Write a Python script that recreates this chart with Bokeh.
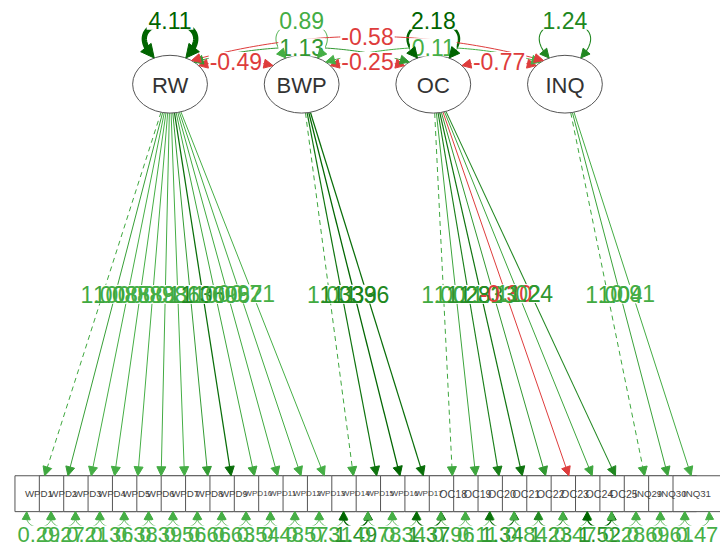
import numpy as np
from bokeh.plotting import figure
from bokeh.models import Range1d, Arrow, NormalHead, ColumnDataSource
from bokeh.embed import file_html
from bokeh.resources import INLINE
from bokeh.core.properties import value

# ---------------- data ----------------
latent_names = ["RW", "BWP", "OC", "INQ"]
latent_variances = [4.11, 0.89, 2.18, 1.24]

rw_items = ["WPD1", "WPD2", "WPD3", "WPD4", "WPD5", "WPD6", "WPD7",
            "WPD8", "WPD9", "WPD10", "WPD11", "WPD12", "WPD13"]
rw_loadings = [1.00, 1.08, 0.85, 0.88, 0.83, 0.93, 0.86, 1.10, 1.36, 1.00, 0.96, 0.92, 0.71]
rw_residuals = [0.29, 0.27, 0.21, 0.36, 0.38, 0.39, 0.56, 0.66, 0.63, 0.54, 0.48, 0.57, 0.31]

bwp_items = ["WPD14", "WPD15", "WPD16", "WPD17"]
bwp_loadings = [1.00, 1.33, 1.39, 1.36]
bwp_residuals = [1.49, 0.78, 0.34, 1.37]

oc_items = ["OC18", "OC19", "OC20", "OC21", "OC22", "OC23", "OC24", "OC25"]
oc_loadings = [1.00, 1.02, 1.28, 1.33, 1.13, -0.30, 1.02, 1.24]
oc_residuals = [0.96, 0.11, 1.34, 0.84, 1.23, 0.47, 1.52, 0.28]

inq_items = ["INQ29", "INQ30", "INQ31"]
inq_loadings = [1.00, 1.04, 0.91]
inq_residuals = [0.69, 0.61, 0.47]

cov_from = ["RW", "BWP", "OC", "RW", "BWP", "RW"]
cov_to = ["BWP", "OC", "INQ", "OC", "INQ", "INQ"]
cov_values = [-0.49, -0.25, -0.77, 1.13, 0.11, -0.58]

# ---------------- layout / style ----------------
FONT = value("Liberation Sans")
LAT_X0, LAT_DX, LAT_Y = 170.0, 132.0, 84.0
LAT_A, LAT_B = 37.5, 29.0
BOX_X0, BOX_DX, BOX_Y = 38.5, 24.44, 495.0
BOX_W, BOX_H = 48.0, 36.0
LABEL_FS = 23
RES_FS = 22

groups = [(rw_items, rw_loadings, rw_residuals),
          (bwp_items, bwp_loadings, bwp_residuals),
          (oc_items, oc_loadings, oc_residuals),
          (inq_items, inq_loadings, inq_residuals)]
items, loadings, residuals, factor_idx, first_flag = [], [], [], [], []
for j, (it, ld, rs) in enumerate(groups):
    items += it
    loadings += ld
    residuals += rs
    factor_idx += [j] * len(it)
    first_flag += [k == 0 for k in range(len(it))]

n_items = len(items)
lat_x = [LAT_X0 + j * LAT_DX for j in range(len(latent_names))]
box_x = [BOX_X0 + i * BOX_DX for i in range(n_items)]


def mix(c0, c1, t):
    return "#%02x%02x%02x" % tuple(int(round(a + (b - a) * t)) for a, b in zip(c0, c1))


def strength(v):
    return min(1.0, max(0.0, (abs(v) - 0.8) / 0.6)) ** 2


def edge_color(v, k=1.0):
    t = strength(v) * k
    if v >= 0:
        return mix((70, 175, 70), (0, 100, 0), t)
    return mix((222, 60, 60), (175, 0, 0), t)


def edge_width(v):
    return 1.0 + 1.5 * max(0.0, abs(v) - 1.2)


CW = {".": 0.278, "-": 0.333, "W": 0.944, "P": 0.667, "D": 0.722, "O": 0.778,
      "C": 0.722, "I": 0.278, "N": 0.722, "Q": 0.778}


def text_em(s):
    return sum(CW.get(ch, 0.556) for ch in s)


def fmt(v):
    return "%.2f" % v


p = figure(width=720, height=547, x_range=Range1d(0, 722), y_range=Range1d(549, 0),
           output_backend="svg", toolbar_location=None, min_border=0,
           x_axis_location=None, y_axis_location=None)
p.xgrid.visible = False
p.ygrid.visible = False
p.outline_line_color = None
p.background_fill_color = "white"
p.border_fill_color = "white"

seg = {True: dict(x0=[], y0=[], x1=[], y1=[], c=[], w=[]),
       False: dict(x0=[], y0=[], x1=[], y1=[], c=[], w=[])}
curves = dict(xs=[], ys=[], c=[], w=[])
labels = dict(x=[], y=[], text=[], c=[], w=[], h=[], fs=[])
heads = []


def add_head(x0, y0, x1, y1, col, size):
    heads.append(Arrow(end=NormalHead(size=size, fill_color=col, line_color=col, line_width=1),
                       x_start=x0, y_start=y0, x_end=x1, y_end=y1,
                       line_alpha=0.0, line_width=0.5))


def add_label(x, y, txt, col, fs=LABEL_FS):
    labels["x"].append(x)
    labels["y"].append(y)
    labels["text"].append(txt)
    labels["c"].append(col)
    labels["w"].append(text_em(txt) * fs + 2)
    labels["h"].append(fs * 0.8)
    labels["fs"].append("%dpx" % fs)


def trim(pts, size):
    d = np.cumsum(np.r_[0, np.hypot(*np.diff(pts, axis=0).T)])
    return int(np.searchsorted(d, d[-1] - size * 0.75))


def add_curve(pts, col, w, size, both=True):
    k_end = trim(pts, size)
    k_start = 0
    if both:
        k_start = len(pts) - 1 - trim(pts[::-1], size)
        add_head(pts[k_start][0], pts[k_start][1], pts[0][0], pts[0][1], col, size)
    add_head(pts[k_end][0], pts[k_end][1], pts[-1][0], pts[-1][1], col, size)
    sub = pts[k_start:k_end + 1]
    curves["xs"].append(list(sub[:, 0]))
    curves["ys"].append(list(sub[:, 1]))
    curves["c"].append(col)
    curves["w"].append(w)


def quad(P0, C, P2, n=80):
    t = np.linspace(0, 1, n)[:, None]
    P0, C, P2 = map(np.asarray, (P0, C, P2))
    return (1 - t) ** 2 * P0 + 2 * (1 - t) * t * C + t ** 2 * P2


def cubic(P0, C1, C2, P3, n=100):
    t = np.linspace(0, 1, n)[:, None]
    P0, C1, C2, P3 = map(np.asarray, (P0, C1, C2, P3))
    return ((1 - t) ** 3 * P0 + 3 * (1 - t) ** 2 * t * C1
            + 3 * (1 - t) * t ** 2 * C2 + t ** 3 * P3)


def ell_pt(cx, deg):
    r = np.radians(deg)
    return (cx + LAT_A * np.cos(r), LAT_Y - LAT_B * np.sin(r))


# ---- factor loadings ----
for i in range(n_items):
    j = factor_idx[i]
    cx, bx = lat_x[j], box_x[i]
    dx, dy = bx - cx, BOX_Y - LAT_Y
    s = 1.0 / np.hypot(dx / LAT_A, dy / LAT_B)
    sx, sy = cx + s * dx, LAT_Y + s * dy
    f = (BOX_Y - BOX_H / 2 - LAT_Y) / dy
    ex, ey = cx + f * dx, BOX_Y - BOX_H / 2
    v = loadings[i]
    col, w = edge_color(v), edge_width(v)
    hs = 8 + w
    L = np.hypot(ex - sx, ey - sy)
    ux, uy = (ex - sx) / L, (ey - sy) / L
    mx, my = ex - ux * hs * 0.75, ey - uy * hs * 0.75
    d = seg[first_flag[i]]
    d["x0"].append(sx); d["y0"].append(sy); d["x1"].append(mx); d["y1"].append(my)
    d["c"].append(col); d["w"].append(w)
    add_head(mx, my, ex, ey, col, hs)
    add_label((sx + ex) / 2, (sy + ey) / 2, fmt(v), edge_color(v, 0.6))

# ---- residual variances (loops under the boxes) ----
yb = BOX_Y + BOX_H / 2
for i in range(n_items):
    c = box_x[i]
    v = residuals[i]
    col, w = edge_color(v), edge_width(v)
    pts = cubic((c - 12.2, yb), (c - 17, yb + 21), (c + 17, yb + 21), (c + 12.2, yb))
    add_curve(pts, col, w, 7 + w)
    add_label(c, 536, fmt(v), edge_color(v, 0.4), RES_FS)

# ---- latent variances (loops above the ellipses) ----
for j, v in enumerate(latent_variances):
    cx = lat_x[j]
    col, w = edge_color(v), edge_width(v)
    pts = cubic(ell_pt(cx, 115), (cx - 60, 10), (cx + 60, 10), ell_pt(cx, 65))
    add_curve(pts, col, w, 8 + w)
    add_label(cx, 20, fmt(v), col)

# ---- covariances between latents ----
ang = {1: 40, 2: 50, 3: 55}
lab_y = {1: 61, 2: 47, 3: 36}
for a_name, b_name, v in zip(cov_from, cov_to, cov_values):
    a, b = latent_names.index(a_name), latent_names.index(b_name)
    span = b - a
    P0 = np.array(ell_pt(lat_x[a], ang[span]))
    P2 = np.array(ell_pt(lat_x[b], 180 - ang[span]))
    M = np.array([(P0[0] + P2[0]) / 2, lab_y[span]])
    C = 2 * M - (P0 + P2) / 2
    col, w = edge_color(v), edge_width(v)
    add_curve(quad(P0, C, P2), col, w, 8 + w)
    add_label(M[0], M[1], fmt(v), col)

# ---------------- draw ----------------
for dashed, d in seg.items():
    if d["x0"]:
        p.segment("x0", "y0", "x1", "y1", source=ColumnDataSource(d),
                  line_color="c", line_width="w",
                  line_dash="5 4" if dashed else "solid")
p.multi_line("xs", "ys", source=ColumnDataSource(curves), line_color="c", line_width="w")

p.ellipse(x=lat_x, y=[LAT_Y] * len(lat_x), width=2 * LAT_A, height=2 * LAT_B,
          fill_color="white", line_color="#555555", line_width=1)
p.rect(x=box_x, y=[BOX_Y] * n_items, width=BOX_W, height=BOX_H,
       fill_color="white", line_color="#555555", line_width=1)

lab_src = ColumnDataSource(labels)
p.rect("x", "y", width="w", height="h", width_units="screen",
       height_units="screen", source=lab_src, fill_color="white", line_color=None)
p.text("x", "y", text="text", source=lab_src, text_color="c", text_font=FONT,
       text_font_size="fs", text_align="center", text_baseline="middle")

p.text(x=lat_x, y=[LAT_Y + 1] * len(lat_x), text=latent_names, text_color="#333333",
       text_font=FONT, text_font_size="22px", text_align="center", text_baseline="middle")

box_fs = ["%.1fpx" % min(11.0, 28.0 / text_em(s)) for s in items]
p.text(x=box_x, y=[BOX_Y] * n_items, text=items, text_color="#444444", text_font=FONT,
       text_font_size=box_fs, text_align="center", text_baseline="middle")

for h in heads:
    p.add_layout(h)

open("out.html", "w").write(file_html(p, INLINE))
